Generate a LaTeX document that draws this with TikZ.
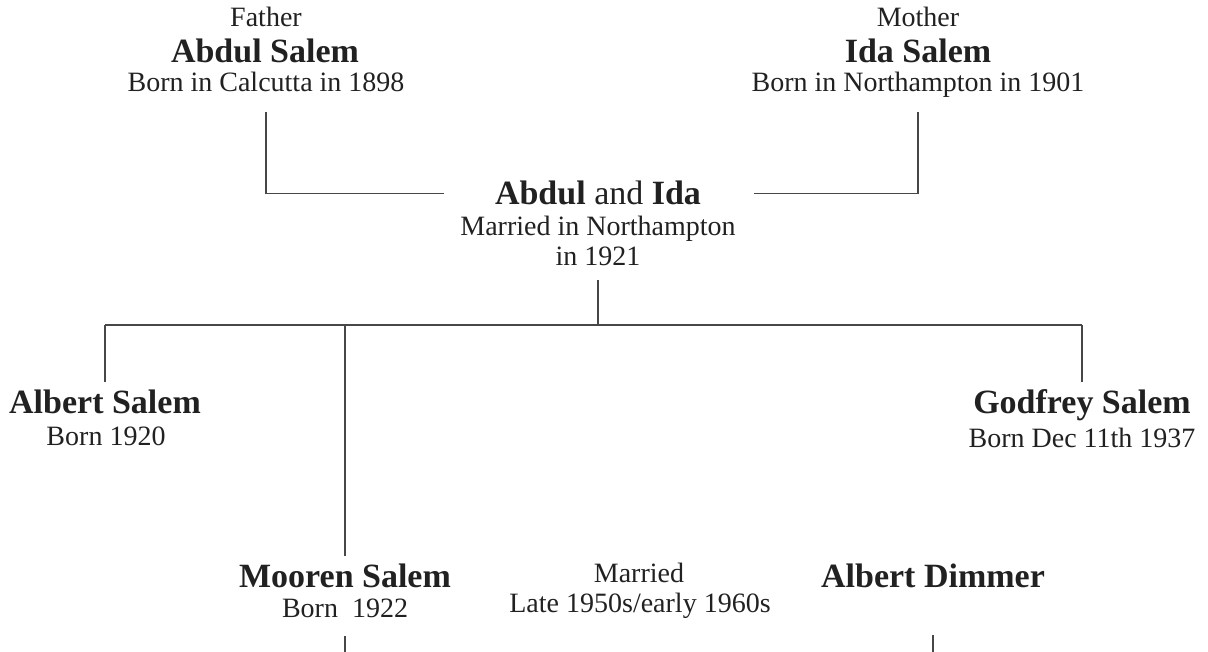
\documentclass[tikz,border=0pt]{standalone}
\usepackage{fontspec}
\setmainfont{Liberation Serif}
\usetikzlibrary{positioning}
\tikzset{
	lbl/.style={anchor=base, text=black!87, font=\fontsize{14}{16}\selectfont},
	pname/.style={anchor=base, text=black!87, font=\fontsize{17}{20}\selectfont\bfseries},
	link/.style={line width=0.7pt, draw=black!72},
}

\begin{document}
\begin{tikzpicture}[x=0.5pt, y=-0.5pt]
		%%%%% START %%%%%
		\useasboundingbox (0, 0) rectangle (1208, 652);
		
		% parents
		\node[lbl] (fatitle) at (266, 27) {Father};
		\node[pname] (faname) at (265, 63) {Abdul Salem};
		\node[lbl] (faborn) at (266, 92) {Born in Calcutta in 1898};
		
		\node[lbl] (motitle) at (918, 27) {Mother};
		\node[pname] (moname) at (918, 63) {Ida Salem};
		\node[lbl] (moborn) at (918, 92) {Born in Northampton in 1901};
		
		% marriage
		\node[pname, font=\fontsize{17}{20}\selectfont] (wetitle) at (598, 205) {\textbf{Abdul} and \textbf{Ida}};
		\node[lbl] (weplace) at (598, 235) {Married in Northampton};
		\node[lbl] (weyear) at (598, 265) {in 1921};
		
		\draw[link, shorten <=6.5pt] (faborn.south) |- ([xshift=-22pt]wetitle.west);
		\draw[link, shorten <=3.5pt] (moborn.south) |- ([xshift=23pt]wetitle.east);
		
		% children
		\node[pname] (alname) at (105, 413) {Albert Salem};
		\node[lbl] (alborn) at (106, 445) {Born 1920};
		
		\node[pname] (goname) at (1082, 413) {Godfrey Salem};
		\node[lbl] (goborn) at (1082, 447) {Born Dec 11th 1937};
		
		\node[pname] (mrname) at (345, 587) {Mooren Salem};
		\node[lbl] (mrborn) at (345, 617) {Born\ \ 1922};
		
		\node[lbl] (martitle) at (639, 582) {Married};
		\node[lbl] (maryear) at (640, 612) {Late 1950s/early 1960s};
		
		\node[pname] (diname) at (933, 587) {Albert Dimmer};
		
		\coordinate (bar) at (599, 325);
		\coordinate (bottom) at (0, 652);
		
		\draw[link, shorten <=4pt] (weyear.south) -- (weyear.south |- bar);
		\draw[link] (bar -| alname.north) -- (bar -| goname.north);
		\foreach \k in {alname, mrname, goname}
			\draw[link] (bar -| \k.north) -- (\k.north);
		
		\draw[link, shorten <=6pt] (mrborn.south) -- (mrborn.south |- bottom);
		\draw[link, shorten <=20.5pt] (diname.south) -- (diname.south |- bottom);
		
		%%%%% END %%%%%
	\end{tikzpicture}
\end{document}
